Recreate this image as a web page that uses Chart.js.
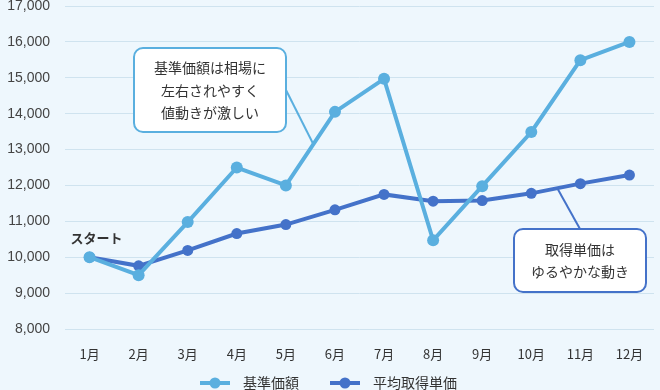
<!DOCTYPE html>
<html>
<head>
<meta charset="utf-8">
<script src="https://cdn.jsdelivr.net/npm/chart.js@4"></script>
<style>
  html, body { margin: 0; padding: 0; background: #eef7fd; }
  #wrap { width: 660px; height: 390px; position: relative; }
</style>
</head>
<body>
<div id="wrap"><canvas id="chart" width="660" height="390"></canvas></div>
<script>
const months = ["1月", "2月", "3月", "4月", "5月", "6月", "7月", "8月", "9月", "10月", "11月", "12月"];
const kijunKagaku = [10000, 9500, 10980, 12500, 12000, 14050, 14970, 10470, 11980, 13490, 15490, 16000];
const heikinTanka = [10000, 9760, 10190, 10660, 10910, 11320, 11750, 11560, 11580, 11780, 12050, 12290];
const seriesNames = ["基準価額", "平均取得単価"];
const yTicks = { min: 8000, max: 17000, step: 1000 };

const lightBlue = "#5aafdf";
const darkBlue = "#4472c9";
const fontFamily = "'Noto Sans CJK JP', 'Noto Sans', sans-serif";

function pointAt(chart, dsIndex, from, frac) {
  const meta = chart.getDatasetMeta(dsIndex).data;
  const a = meta[from];
  const b = meta[from + 1];
  return { x: a.x + (b.x - a.x) * frac, y: a.y + (b.y - a.y) * frac };
}

function roundRect(ctx, x, y, w, h, r) {
  ctx.beginPath();
  ctx.moveTo(x + r, y);
  ctx.arcTo(x + w, y, x + w, y + h, r);
  ctx.arcTo(x + w, y + h, x, y + h, r);
  ctx.arcTo(x, y + h, x, y, r);
  ctx.arcTo(x, y, x + w, y, r);
  ctx.closePath();
}

function callout(ctx, box, lines, color, from, to) {
  ctx.save();
  ctx.strokeStyle = color;
  ctx.lineWidth = 2;
  ctx.beginPath();
  ctx.moveTo(from.x, from.y);
  ctx.lineTo(to.x, to.y);
  ctx.stroke();

  roundRect(ctx, box.x, box.y, box.w, box.h, 9);
  ctx.fillStyle = "#ffffff";
  ctx.fill();
  ctx.stroke();

  ctx.fillStyle = "#333333";
  ctx.font = "14px " + fontFamily;
  ctx.textAlign = "center";
  ctx.textBaseline = "middle";
  const cx = box.x + box.w / 2;
  const startY = box.y + box.h / 2 - (lines.length - 1) * 11;
  lines.forEach((line, i) => ctx.fillText(line, cx, startY + i * 22.5));
  ctx.restore();
}

const annotations = {
  id: "annotations",
  afterDatasetsDraw(chart) {
    const ctx = chart.ctx;

    const p1 = pointAt(chart, 0, 4, 0.56);
    callout(ctx, { x: 134, y: 48, w: 152, h: 84 },
      ["基準価額は相場に", "左右されやすく", "値動きが激しい"],
      lightBlue, { x: 286, y: 90 }, p1);

    const p2 = pointAt(chart, 1, 9, 0.53);
    callout(ctx, { x: 514, y: 229, w: 132, h: 63 },
      ["取得単価は", "ゆるやかな動き"],
      darkBlue, { x: 580, y: 229 }, p2);

    const start = chart.getDatasetMeta(0).data[0];
    ctx.save();
    ctx.fillStyle = "#333333";
    ctx.font = "bold 13px " + fontFamily;
    ctx.textAlign = "center";
    ctx.textBaseline = "middle";
    ctx.fillText("スタート", start.x + 7, start.y - 19);
    ctx.restore();
  },
  afterDraw(chart) {
    const ctx = chart.ctx;
    const items = [
      { x: 200, color: lightBlue, label: seriesNames[0] },
      { x: 330, color: darkBlue, label: seriesNames[1] }
    ];
    const y = 383;
    ctx.save();
    items.forEach((item) => {
      ctx.strokeStyle = item.color;
      ctx.lineWidth = 4;
      ctx.beginPath();
      ctx.moveTo(item.x, y);
      ctx.lineTo(item.x + 30, y);
      ctx.stroke();
      ctx.fillStyle = item.color;
      ctx.beginPath();
      ctx.arc(item.x + 15, y, 5.5, 0, Math.PI * 2);
      ctx.fill();
      ctx.fillStyle = "#333333";
      ctx.font = "14px " + fontFamily;
      ctx.textAlign = "left";
      ctx.textBaseline = "middle";
      ctx.fillText(item.label, item.x + 43, y);
    });
    ctx.restore();
  }
};

new Chart(document.getElementById("chart"), {
  type: "line",
  data: {
    labels: months,
    datasets: [
      {
        label: seriesNames[0],
        data: kijunKagaku,
        borderColor: lightBlue,
        backgroundColor: lightBlue,
        borderWidth: 4,
        pointRadius: 6,
        pointHoverRadius: 6,
        pointBorderWidth: 0,
        tension: 0
      },
      {
        label: seriesNames[1],
        data: heikinTanka,
        borderColor: darkBlue,
        backgroundColor: darkBlue,
        borderWidth: 4,
        pointRadius: 5.5,
        pointHoverRadius: 5.5,
        pointBorderWidth: 0,
        tension: 0
      }
    ]
  },
  options: {
    responsive: false,
    animation: false,
    layout: { padding: { top: 0, right: 0, bottom: 21, left: 0 } },
    plugins: {
      legend: { display: false },
      tooltip: { enabled: false }
    },
    scales: {
      x: {
        offset: true,
        grid: { display: false },
        border: { display: false },
        ticks: {
          color: "#333333",
          font: { family: fontFamily, size: 13 },
          padding: 9,
          maxRotation: 0
        },
        afterFit: (scale) => { scale.height = 40; }
      },
      y: {
        min: yTicks.min,
        max: yTicks.max,
        grid: { color: "#cfe3ef", lineWidth: 1, drawTicks: false },
        border: { display: false },
        ticks: {
          stepSize: yTicks.step,
          color: "#444444",
          padding: 15,
          font: { family: "'Liberation Sans', Arial, sans-serif", size: 14 },
          callback: (value) => value.toLocaleString("en-US")
        },
        afterFit: (scale) => {
          scale.width = 65;
          scale.paddingTop = 5;
        }
      }
    }
  },
  plugins: [annotations]
});
</script>
</body>
</html>
